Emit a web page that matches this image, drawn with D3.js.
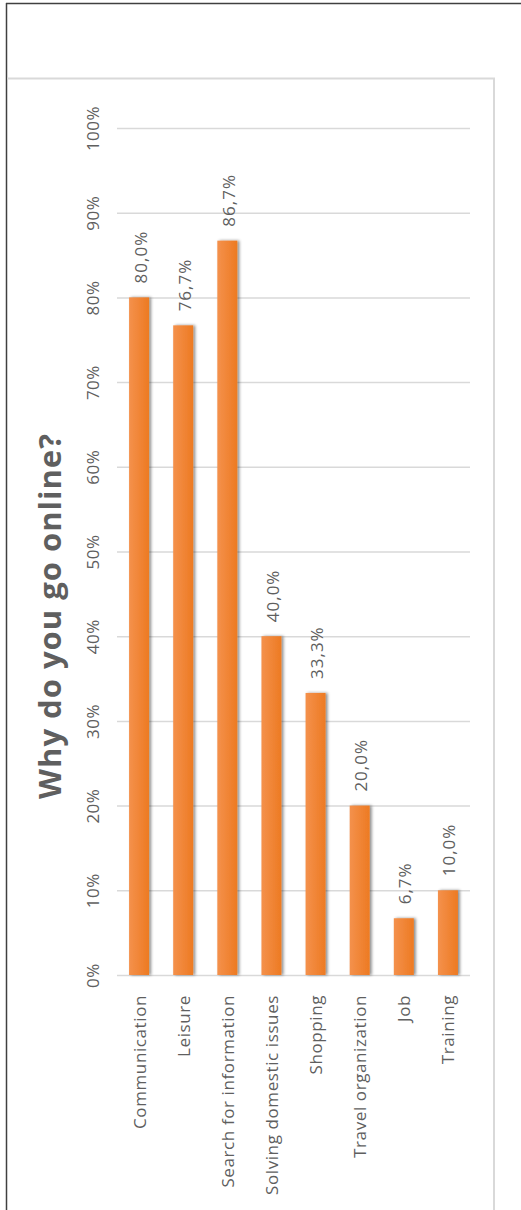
<!DOCTYPE html>
<html><head><meta charset="utf-8">
<script src="https://cdn.jsdelivr.net/npm/d3@7"></script>
<style>
html,body{margin:0;padding:0;background:#fff;}
svg{display:block;font-family:"Open Sans",sans-serif;}
</style></head>
<body>
<svg id="c" width="521" height="1210"></svg>
<script>
const categories = ["Communication","Leisure","Search for information","Solving domestic issues","Shopping","Travel organization","Job","Training"];
const values = [0.800, 0.767, 0.867, 0.400, 0.333, 0.200, 0.067, 0.100];
const tickValues = [0,0.1,0.2,0.3,0.4,0.5,0.6,0.7,0.8,0.9,1.0];
const tickLabels = ["0%","10%","20%","30%","40%","50%","60%","70%","80%","90%","100%"];
const title = "Why do you go online?";

const svg = d3.select("#c");
const textColor = "#5f5f5f";
const grid = "#d9d9d9";

// frames
svg.append("line").attr("x1",6).attr("x2",521).attr("y1",3.5).attr("y2",3.5).attr("stroke","#404040").attr("stroke-width",1.5);
svg.append("line").attr("x1",6.5).attr("x2",6.5).attr("y1",3).attr("y2",1210).attr("stroke","#404040").attr("stroke-width",1.5);
svg.append("path").attr("d","M7,78.5H494V1210").attr("fill","none").attr("stroke",grid).attr("stroke-width",2);

const defs = svg.append("defs");
const grad = defs.append("linearGradient").attr("id","bg").attr("x1","0").attr("x2","1").attr("y1","0").attr("y2","0");
grad.append("stop").attr("offset","0").attr("stop-color","#f4914c");
grad.append("stop").attr("offset","1").attr("stop-color","#ed7a22");
const f = defs.append("filter").attr("id","sh").attr("x","-50%").attr("y","-10%").attr("width","200%").attr("height","120%");
f.append("feDropShadow").attr("dx",2).attr("dy",0).attr("stdDeviation",1.5).attr("flood-color","#000").attr("flood-opacity",0.45);

const y = d3.scaleLinear().domain([0,1]).range([975,128]);
const x = d3.scaleBand().domain(categories).range([117,470]).paddingInner(0.547).paddingOuter(0.2735);

// gridlines via axis
const gAxis = svg.append("g").attr("transform","translate(117,0)")
  .call(d3.axisLeft(y).tickValues(tickValues).tickSize(-353).tickFormat((d,i)=>tickLabels[i]));
gAxis.select(".domain").remove();
gAxis.selectAll(".tick line").attr("stroke",grid).attr("stroke-width",1.5);
gAxis.selectAll(".tick text")
  .attr("x",null).attr("dy",null)
  .attr("transform","translate(-25,0) rotate(-90)")
  .attr("text-anchor","middle").attr("dominant-baseline","central")
  .attr("fill",textColor).style("font-size","17px").style("letter-spacing","0.5px").style("font-family","'Open Sans',sans-serif");

// bars
const data = categories.map((c,i)=>({c, v: values[i]}));
svg.append("g").selectAll("rect").data(data).join("rect")
  .attr("x",d=>x(d.c)).attr("width",x.bandwidth())
  .attr("y",d=>y(d.v)).attr("height",d=>y(0)-y(d.v))
  .attr("fill","url(#bg)").attr("filter","url(#sh)");

// value labels
const fmt = v => d3.format(".1f")(v*100).replace(".",",")+"%";
svg.append("g").selectAll("text").data(data).join("text")
  .attr("transform",d=>`translate(${x(d.c)+x.bandwidth()/2+1},${y(d.v)-14}) rotate(-90)`)
  .attr("text-anchor","start").attr("dominant-baseline","central")
  .attr("fill",textColor).style("font-size","17px").style("letter-spacing","1px")
  .text(d=>fmt(d.v));

// category labels
const xAxis = svg.append("g").attr("transform","translate(0,975)")
  .call(d3.axisBottom(x).tickSize(0));
xAxis.select(".domain").remove();
xAxis.selectAll(".tick text")
  .attr("y",null).attr("dy",null)
  .attr("transform","translate(0,20) rotate(-90)")
  .attr("text-anchor","end").attr("dominant-baseline","central")
  .attr("fill",textColor).style("font-size","17px").style("letter-spacing","0.6px").style("font-family","'Open Sans',sans-serif");

// title
svg.append("text").attr("transform","translate(49,616) rotate(-90)")
  .attr("text-anchor","middle").attr("dominant-baseline","central")
  .attr("fill",textColor).style("font-size","31px").style("font-weight","bold").style("letter-spacing","1px")
  .text(title);
</script>
</body></html>
